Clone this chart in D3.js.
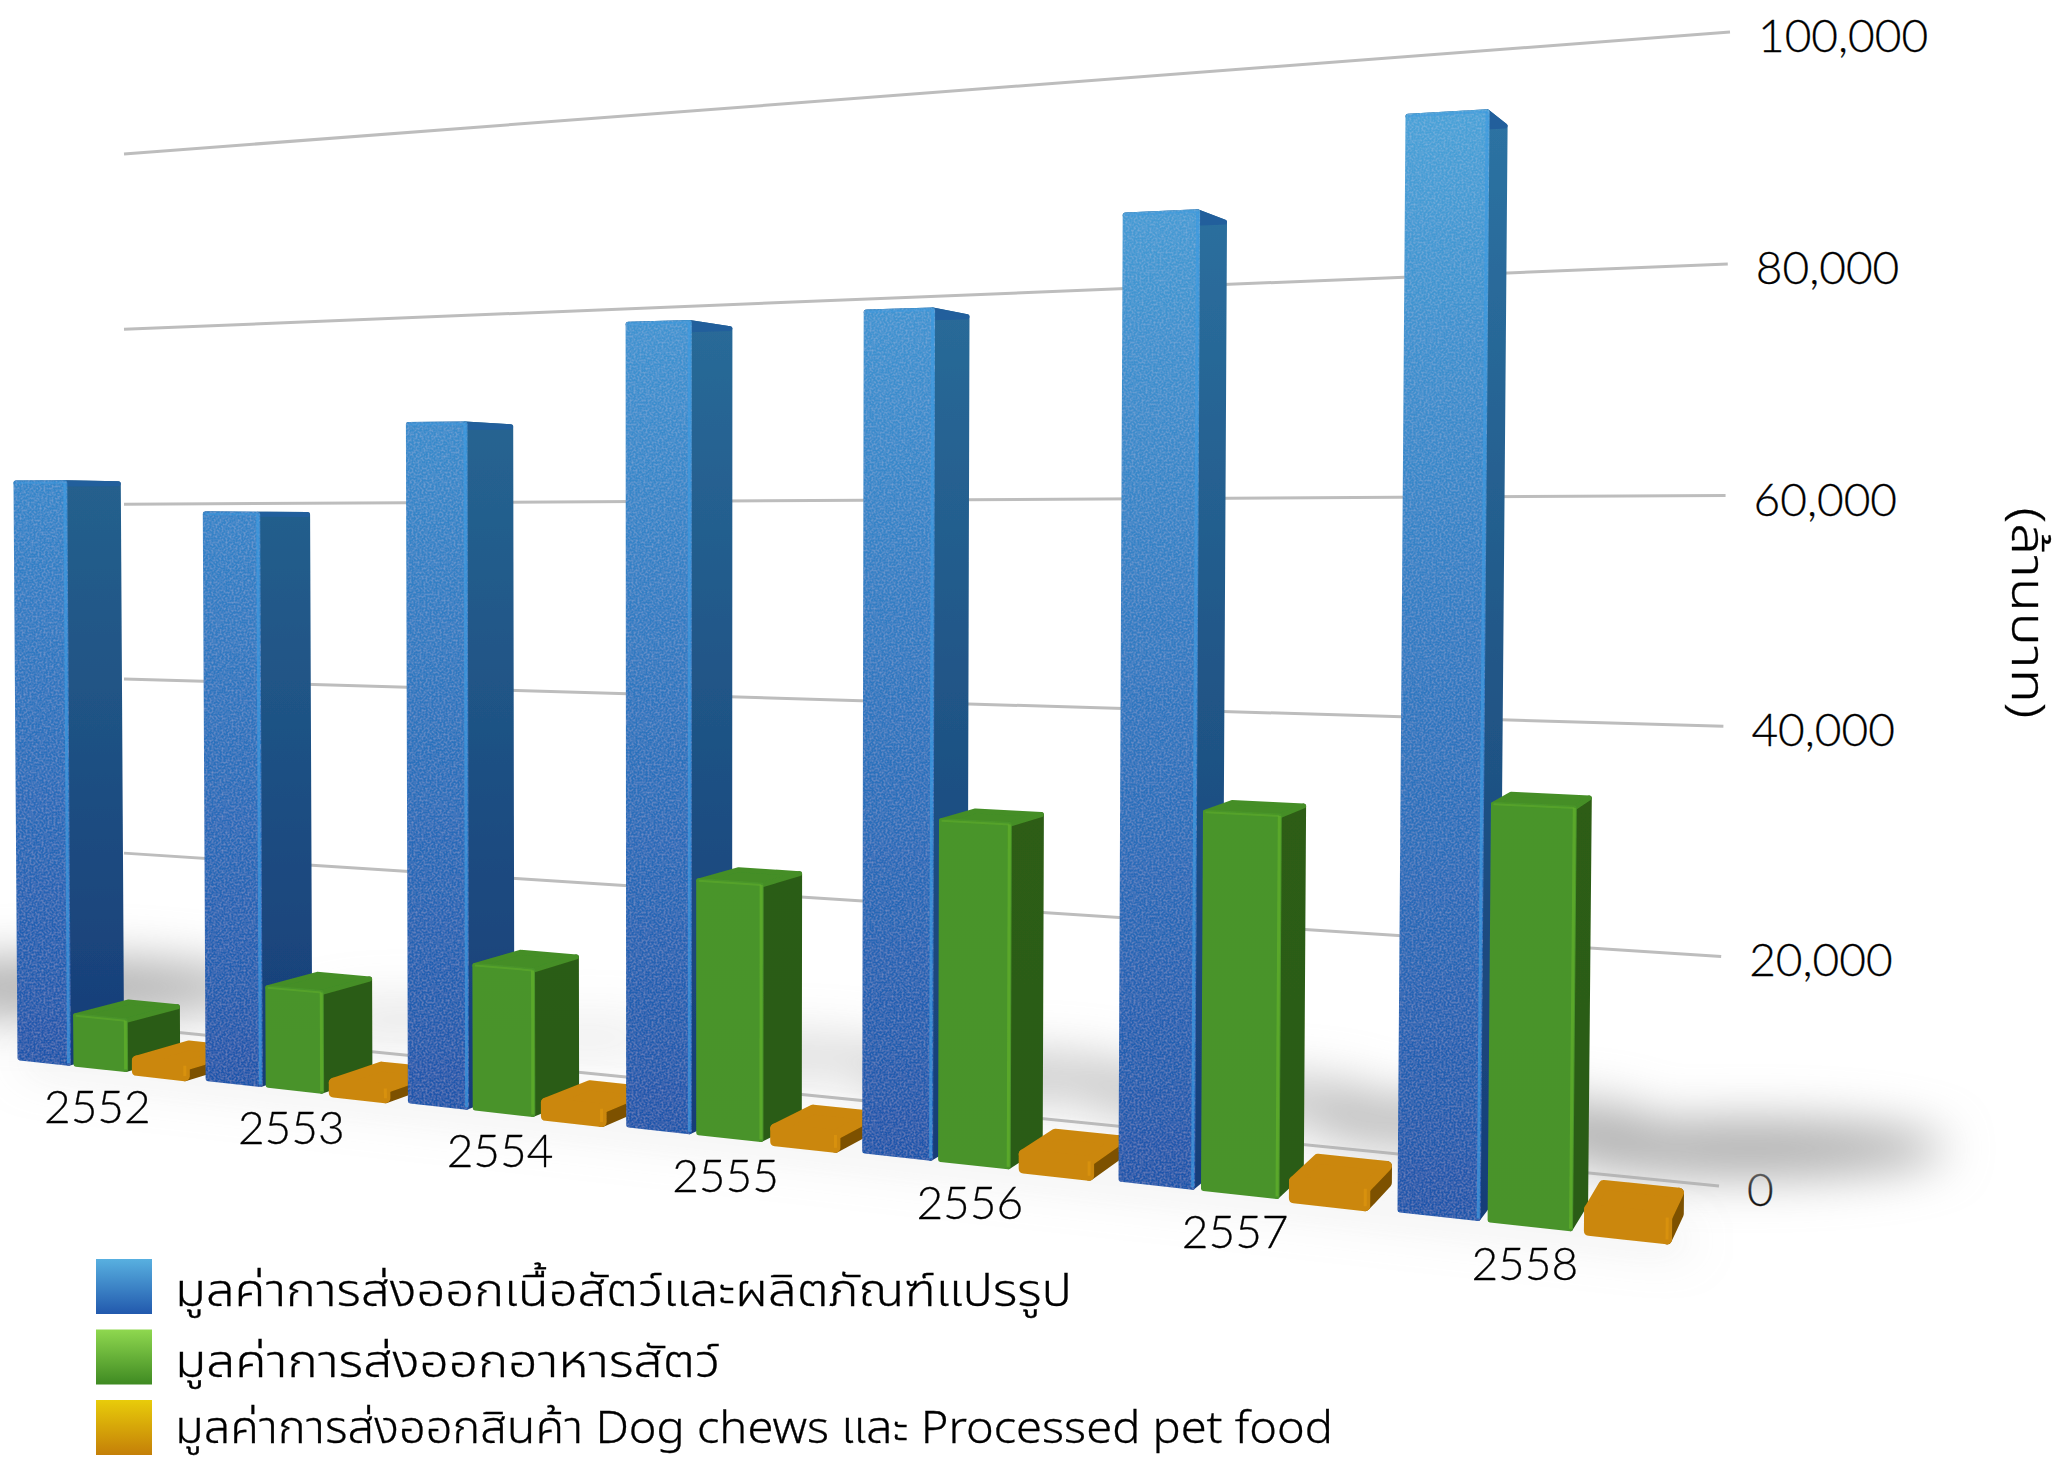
<!DOCTYPE html>
<html>
<head>
<meta charset="utf-8">
<script src="https://cdn.jsdelivr.net/npm/d3@7"></script>
<style>
	body { margin: 0; background: #fff; }
	svg { display: block; }
	text { font-family: Lato, "Noto Sans", sans-serif; font-weight: 300; fill: #000; stroke: #000; stroke-width: 0.3px; }
	.thai { font-family: "Noto Sans Thai", "Noto Sans", "DejaVu Sans", sans-serif; font-weight: 300; }
</style>
</head>
<body>
<div id="chart"></div>
<script>
// values (million baht)
var years = [2552, 2553, 2554, 2555, 2556, 2557, 2558];
var processedMeat = [62000, 58750, 67750, 77100, 77600, 85450, 92700];
var petFood = [5200, 10100, 14200, 24100, 31100, 33100, 35000];
var dogChews = [1100, 1000, 1300, 1200, 1300, 1500, 1800];
var yTicks = [0, 20000, 40000, 60000, 80000, 100000];
var legendLabels = [
	'มูลค่าการส่งออกเนื้อสัตว์และผลิตภัณฑ์แปรรูป',
	'มูลค่าการส่งออกอาหารสัตว์',
	'มูลค่าการส่งออกสินค้า Dog chews และ Processed pet food'
];
var legendWidths = [897, 545, 1158];
var yTitle = '(ล้านบาท)';

var width = 2069, height = 1463;

var svg = d3.select('#chart').append('svg')
	.attr('width', width)
	.attr('height', height);

var defs = svg.append('defs');

defs.append('filter').attr('id', 'soft')
	.append('feGaussianBlur').attr('stdDeviation', 0.7);
defs.append('filter').attr('id', 'shadowBlur')
	.attr('x', '-50%').attr('y', '-150%').attr('width', '200%').attr('height', '400%')
	.append('feGaussianBlur').attr('stdDeviation', 24);

// fine speckle on the front faces
var grain = defs.append('filter').attr('id', 'grain');
grain.append('feTurbulence').attr('type', 'fractalNoise').attr('baseFrequency', 0.5).attr('numOctaves', 2).attr('result', 'n');
grain.append('feColorMatrix').attr('in', 'n').attr('type', 'matrix')
	.attr('values', '0 0 0 0 1  0 0 0 0 1  0 0 0 0 1  0 0 0 0.3 -0.12').attr('result', 'w');
grain.append('feComposite').attr('in', 'w').attr('in2', 'SourceGraphic').attr('operator', 'in').attr('result', 'c');
var gm = grain.append('feMerge');
gm.append('feMergeNode').attr('in', 'SourceGraphic');
gm.append('feMergeNode').attr('in', 'c');

/* Scene: unit square -> picture, one plane for the bars and one for the back wall */
var xScale = d3.scaleLinear().domain([2552, 2558]).range([0, 1]);
var yScale = d3.scaleLinear().domain([0, 100000]).range([0, 1]);

function quad(p0, p1, p2, p3) {
	var dx1 = p1[0] - p2[0], dx2 = p3[0] - p2[0], sx = p0[0] - p1[0] + p2[0] - p3[0];
	var dy1 = p1[1] - p2[1], dy2 = p3[1] - p2[1], sy = p0[1] - p1[1] + p2[1] - p3[1];
	var den = dx1 * dy2 - dx2 * dy1;
	var g = (sx * dy2 - dx2 * sy) / den, h = (dx1 * sy - sx * dy1) / den;
	return {
		a: p1[0] - p0[0] + g * p1[0], b: p3[0] - p0[0] + h * p3[0], c: p0[0],
		d: p1[1] - p0[1] + g * p1[1], e: p3[1] - p0[1] + h * p3[1], f: p0[1],
		g: g, h: h
	};
}

var plane = quad([20, 1058], [1400, 1210], [1408.6, 29], [13.5, 127]);
var wall = quad([124, 1027], [1719, 1186], [1730, 32], [124, 154]);
var vanish = [2000, 520];

// year (may be fractional), value, depth behind the front plane
function project(year, value, depth) {
	var u = xScale(year), v = yScale(value), d = depth || 0;
	var w = plane.g * u + plane.h * v + 1 + d;
	return [
		(plane.a * u + plane.b * v + plane.c + d * vanish[0]) / w,
		(plane.d * u + plane.e * v + plane.f + d * vanish[1]) / w
	];
}

function wallPoint(u, value) {
	var v = yScale(value);
	var w = wall.g * u + wall.h * v + 1;
	return [(wall.a * u + wall.b * v + wall.c) / w, (wall.d * u + wall.e * v + wall.f) / w];
}

var barDepth = 0.028;

/* Gridlines on the back wall */
var grid = svg.append('g').attr('class', 'grid');
grid.selectAll('line').data(yTicks).enter().append('line')
	.attr('x1', function (d) { return wallPoint(0, d)[0]; })
	.attr('y1', function (d) { return wallPoint(0, d)[1]; })
	.attr('x2', function (d) { return wallPoint(1, d)[0]; })
	.attr('y2', function (d) { return wallPoint(1, d)[1]; })
	.attr('stroke', '#bdbdbd')
	.attr('stroke-width', 3);

/* Tick labels */
svg.append('g').selectAll('text').data(yTicks).enter().append('text')
	.attr('x', function (d) { return wallPoint(1, d)[0] + 28; })
	.attr('y', function (d) { return wallPoint(1, d)[1] + 20; })
	.style('font-size', '46px')
	.text(function (d) { return d3.format(',')(d); });

/* Shadows on the floor, size and darkness follow the value of the tall bar */
var shadowYears = [years[0] - 2].concat(years);
var shadowValues = [processedMeat[6]].concat(processedMeat);
var shadowLen = d3.scaleLinear().domain([50000, 100000]).range([60, 220]);
var shadowTall = d3.scaleLinear().domain([50000, 100000]).range([14, 30]);
var shadowDark = d3.scaleLinear().domain([60000, 90000]).range([0.3, 1]);
var shadows = svg.append('g').attr('filter', 'url(#shadowBlur)');
shadows.selectAll('ellipse').data(shadowYears).enter().append('ellipse')
	.attr('cx', function (d) { return project(d + 1.02, 0, 0.115)[0]; })
	.attr('cy', function (d) { return project(d + 1.02, 0, 0.115)[1]; })
	.attr('rx', function (d, i) { return shadowLen(shadowValues[i]); })
	.attr('ry', function (d, i) { return shadowTall(shadowValues[i]); })
	.attr('fill', '#acacac')
	.attr('fill-opacity', function (d, i) { return shadowDark(shadowValues[i]); });

// thin shade along the foot of the bars
svg.append('path')
	.attr('d', d3.line()([project(years[0], 0), project(years[6] + 0.95, 0)]))
	.attr('stroke', '#aaa')
	.attr('stroke-opacity', 0.4)
	.attr('stroke-width', 14)
	.attr('filter', 'url(#shadowBlur)');

/* Bars */
var series = [
	{ name: 'blue', values: processedMeat, offset: 0, barWidth: 0.265,
		front: d3.scaleLinear().domain([0, 60000, 100000]).range(['#1f56ab', '#3585c9', '#4ea8db']),
		side: d3.scaleLinear().domain([0, 60000, 100000]).range(['#173d78', '#245f8c', '#2f78a8']),
		top: '#235f9c', edge: '#3d9ae0', round: 5 },
	{ name: 'green', values: petFood, offset: 0.305, barWidth: 0.265,
		front: d3.scaleLinear().domain([0, 100000]).range(['#48932a', '#4c9a28']),
		side: d3.scaleLinear().domain([0, 100000]).range(['#2c5c15', '#2e6016']),
		top: '#448e26', edge: '#62b02c', round: 5 },
	{ name: 'yellow', values: dogChews, offset: 0.63, barWidth: 0.25,
		front: d3.scaleLinear().domain([0, 100000]).range(['#cb8709', '#cb8709']),
		side: d3.scaleLinear().domain([0, 100000]).range(['#7d5103', '#7d5103']),
		top: '#cb8709', edge: '#dd960e', round: 10 }
];

function points(pts) {
	return pts.map(function (p) { return p[0].toFixed(1) + ',' + p[1].toFixed(1); }).join(' ');
}

function gradient(id, scale, value) {
	var g = defs.append('linearGradient').attr('id', id)
		.attr('x1', 0).attr('y1', 1).attr('x2', 0).attr('y2', 0);
	[0, 0.5, 1].forEach(function (k) {
		g.append('stop').attr('offset', k).attr('stop-color', scale(value * k));
	});
	return 'url(#' + id + ')';
}

var barsG = svg.append('g').attr('class', 'bars').attr('filter', 'url(#soft)');

years.forEach(function (year, i) {
	series.forEach(function (s) {
		var v = s.values[i], x0 = year + s.offset, x1 = x0 + s.barWidth;
		var fl0 = project(x0, 0), fr0 = project(x1, 0), fr1 = project(x1, v), fl1 = project(x0, v);
		var br0 = project(x1, 0, barDepth), br1 = project(x1, v, barDepth), bl1 = project(x0, v, barDepth);
		var fFill = gradient(s.name + 'F' + year, s.front, v);
		var sFill = gradient(s.name + 'S' + year, s.side, v);
		var bar = barsG.append('g').attr('stroke-linejoin', 'round');

		bar.append('polygon').attr('points', points([fr0, br0, br1, fr1]))
			.attr('fill', sFill).attr('stroke', sFill).attr('stroke-width', s.round);
		bar.append('polygon').attr('points', points([fl1, fr1, br1, bl1]))
			.attr('fill', s.top).attr('stroke', s.top).attr('stroke-width', s.round);
		bar.append('polygon').attr('points', points([fl0, fr0, fr1, fl1]))
			.attr('fill', fFill).attr('stroke', fFill).attr('stroke-width', s.round)
			.attr('filter', s.name === 'blue' ? 'url(#grain)' : null);
		// lit edge of the bevel between front and side
		bar.append('polyline').attr('points', points([fr0, fr1]))
			.attr('fill', 'none').attr('stroke', s.edge).attr('stroke-width', 3).attr('stroke-opacity', 0.7);
		if (s.name !== 'yellow') {
			bar.append('polyline').attr('points', points([fr1, fl1]))
				.attr('fill', 'none').attr('stroke', s.edge).attr('stroke-width', 2).attr('stroke-opacity', 0.5);
		}
	});
});

/* Year labels */
svg.append('g').selectAll('text').data(years).enter().append('text')
	.attr('x', function (d) { return project(d + 0.42, 0)[0]; })
	.attr('y', function (d) { return project(d + 0.42, 0)[1] + 56; })
	.attr('text-anchor', 'middle')
	.style('font-size', '46px')
	.text(function (d) { return d; });

/* Y title */
svg.append('text')
	.attr('class', 'thai')
	.attr('transform', 'translate(2012, 613) rotate(90)')
	.attr('text-anchor', 'middle')
	.attr('textLength', 211)
	.attr('lengthAdjust', 'spacingAndGlyphs')
	.style('font-size', '46px')
	.text(yTitle);

/* Legend */
var swatchColors = [['#58b0e0', '#2259ad'], ['#8fd84f', '#3f8a22'], ['#e8cc0a', '#c47f08']];
var legendRow = d3.scalePoint().domain(legendLabels).range([1259, 1400]);
var legend = svg.append('g').attr('class', 'legend');

legendLabels.forEach(function (label, i) {
	var g = defs.append('linearGradient').attr('id', 'swatch' + i)
		.attr('x1', 0).attr('y1', 0).attr('x2', 0).attr('y2', 1);
	g.append('stop').attr('offset', 0).attr('stop-color', swatchColors[i][0]);
	g.append('stop').attr('offset', 1).attr('stop-color', swatchColors[i][1]);
	legend.append('rect')
		.attr('x', 96).attr('y', legendRow(label))
		.attr('width', 56).attr('height', 55)
		.attr('fill', 'url(#swatch' + i + ')');
	legend.append('text')
		.attr('class', 'thai')
		.attr('x', 175).attr('y', legendRow(label) + (i < 2 ? 47 : 43))
		.attr('textLength', legendWidths[i])
		.attr('lengthAdjust', 'spacingAndGlyphs')
		.style('font-size', '44px')
		.text(label);
});
</script>
</body>
</html>
